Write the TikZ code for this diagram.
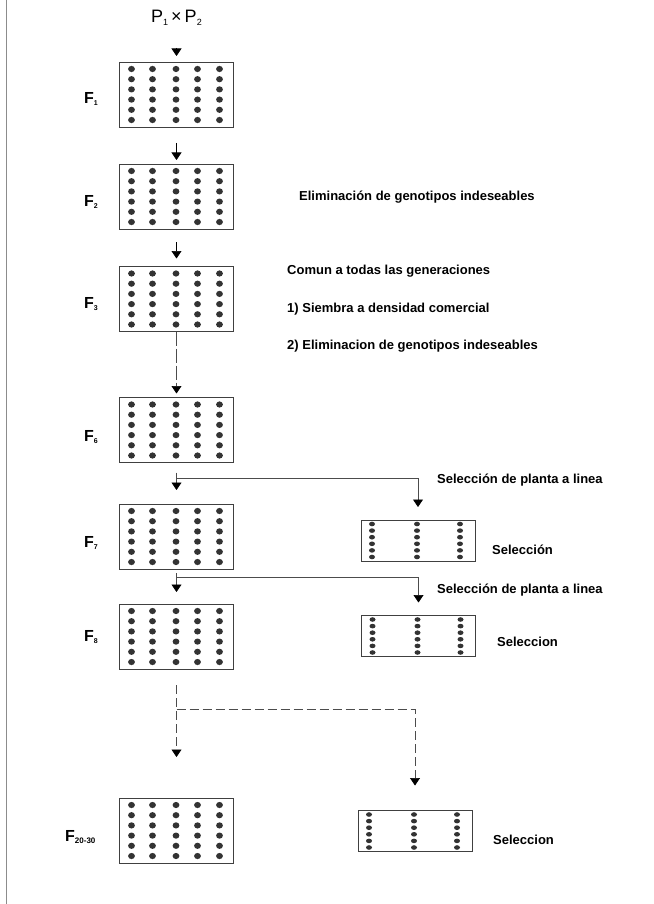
\documentclass[tikz,border=0pt]{standalone}
\usepackage{fontspec}
\setmainfont{Liberation Sans}
\usetikzlibrary{arrows.meta}
\newcommand{\lowsub}[2][7]{\raisebox{-2.5pt}{\fontsize{#1}{#1}\selectfont #2}}
\tikzset{
  plotbox/.style={draw=black!75, line width=0.8pt, rectangle, inner sep=0pt, outer sep=0pt,
    minimum width=114pt, minimum height=65pt, anchor=north west},
  selbox/.style={draw=black!75, line width=0.8pt, rectangle, inner sep=0pt, outer sep=0pt,
    minimum width=114pt, minimum height=41pt, anchor=north west},
  dotc/.style={fill=black!80},
  conn/.style={draw=black!70, line width=0.7pt},
  dsh/.style={conn, dash pattern=on 9pt off 4pt},
  ahead/.style={-{Triangle[width=10pt,length=7.5pt,black]}},
  flab/.style={font=\fontsize{16}{16}\selectfont\bfseries, anchor=west, inner sep=0pt},
  note/.style={font=\fontsize{13}{13}\selectfont\bfseries, anchor=west, inner sep=0pt},
}
\newcommand{\bigplot}[3]{%
  \node[plotbox] (#1) at (#2,#3) {};
  \foreach \c in {12,33,56.5,78,100}{
    \foreach \r in {7,17.2,27.4,37.6,47.8,58}{
      \fill[dotc] ([xshift=\c pt, yshift=-\r pt]#1.north west) ellipse (3.4pt and 3.1pt);
    }
  }
}
\newcommand{\selplot}[3]{%
  \node[selbox] (#1) at (#2,#3) {};
  \foreach \c in {11,56,99}{
    \foreach \r in {4,10.6,17.2,23.8,30.4,37}{
      \fill[dotc] ([xshift=\c pt, yshift=-\r pt]#1.north west) ellipse (3pt and 2.3pt);
    }
  }
}
\begin{document}
\begin{tikzpicture}[x=1pt,y=-1pt]
\useasboundingbox (0,0) rectangle (653,904);
% scanned page edge
\draw[black!45, line width=0.8pt] (6,0) -- (6,904);

% cross
\node[font=\fontsize{18}{18}\selectfont, inner sep=0pt] (cross) at (176.5,18) {P\lowsub[9]{1}\,×\,P\lowsub[9]{2}};

% plots
\bigplot{F1}{119.5}{62}
\bigplot{F2}{119.5}{164}
\bigplot{F3}{119.5}{266.5}
\bigplot{F6}{119.5}{397.5}
\bigplot{F7}{119.5}{504}
\bigplot{F8}{119.5}{604}
\bigplot{F20}{119.5}{798}
\selplot{R1}{361}{520}
\selplot{R2}{361.5}{615.5}
\selplot{R3}{358}{810.5}

% generation labels
\node[flab] (lF1) at (84,99) {F\lowsub{1}};
\node[flab] (lF2) at (84,202) {F\lowsub{2}};
\node[flab] (lF3) at (84,304) {F\lowsub{3}};
\node[flab] (lF6) at (84,437) {F\lowsub{6}};
\node[flab] (lF7) at (84,543) {F\lowsub{7}};
\node[flab] (lF8) at (84,637) {F\lowsub{8}};
\node[flab] (lF20) at (65,837) {F\lowsub[8]{20-30}};

% notes
\node[note] (t1) at (299,197) {Eliminación de genotipos indeseables};
\node[note] (t2) at (287,271) {Comun a todas las generaciones};
\node[note] (t3) at (287,309) {1) Siembra a densidad comercial};
\node[note] (t4) at (287,346) {2) Eliminacion de genotipos indeseables};
\node[note] (s1) at (437,480) {Selección de planta a linea};
\node[note] (s2) at (437,590) {Selección de planta a linea};
\node[note] (e1) at (492,550) {Selección};
\node[note] (e2) at (497,642) {Seleccion};
\node[note] (e3) at (493,840) {Seleccion};

% main chain
\draw[conn, black, ahead] ([yshift=14pt]F1.north) -- ([yshift=6pt]F1.north);
\draw[conn, black, ahead] ([yshift=-16pt]F1.south) -- ([yshift=4pt]F2.north);
\draw[conn, black, ahead] ([yshift=-13pt]F2.south) -- ([yshift=8pt]F3.north);
\draw[conn, dash pattern=on 14pt off 3pt, ahead] (F3.south) -- ([yshift=4pt]F6.north);

% F6 -> F7 and selection
\coordinate (j1) at (176.5,478);
\draw[conn, ahead] ([yshift=-10pt]F6.south) -- ([yshift=14pt]F7.north);
\draw[conn, ahead] (j1) -- (j1 -| R1.north) -- ([yshift=13pt]R1.north);

% F7 -> F8 and selection
\coordinate (j2) at (176.5,577.5);
\draw[conn, ahead] ([yshift=-4pt]F7.south) -- ([yshift=12pt]F8.north);
\draw[conn, ahead] (j2) -- (j2 -| R2.north) -- ([yshift=13pt]R2.north);

% F8 -> F20-30 (dashed)
\coordinate (j3) at (176.5,709.5);
\draw[dsh, ahead] ([yshift=-16pt]F8.south) -- ([yshift=41pt]F20.north);
\draw[dsh, ahead] (j3) -- (j3 -| R3.north) -- ([yshift=25pt]R3.north);
\end{tikzpicture}
\end{document}
